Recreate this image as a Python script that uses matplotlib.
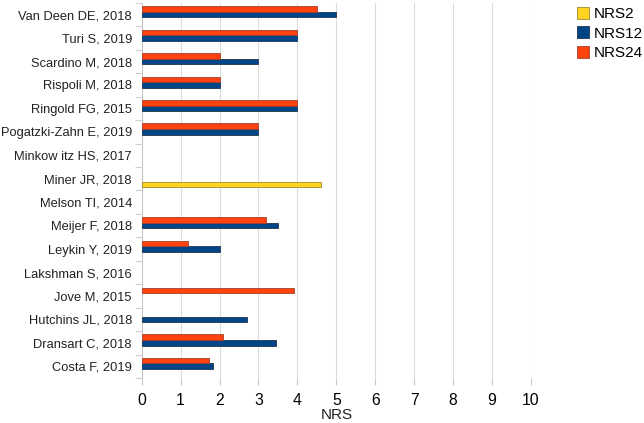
import numpy as np
import matplotlib
matplotlib.use("Agg")
import matplotlib.pyplot as plt
from matplotlib.patches import Patch

plt.rcParams['font.family'] = ['Liberation Sans', 'DejaVu Sans']

# categories, bottom to top
studies = ["Costa F, 2019", "Dransart C, 2018", "Hutchins JL, 2018", "Jove M, 2015",
           "Lakshman S, 2016", "Leykin Y, 2019", "Meijer F, 2018", "Melson TI, 2014",
           "Miner JR, 2018", "Minkow itz HS, 2017", "Pogatzki-Zahn E, 2019",
           "Ringold FG, 2015", "Rispoli M, 2018", "Scardino M, 2018", "Turi S, 2019",
           "Van Deen DE, 2018"]
nan = np.nan
nrs2 = [nan, nan, nan, nan, nan, nan, nan, nan, 4.6, nan, nan, nan, nan, nan, nan, nan]
nrs12 = [1.82, 3.45, 2.7, nan, nan, 2.0, 3.5, nan, nan, nan, 3.0, 4.0, 2.0, 3.0, 4.0, 5.0]
nrs24 = [1.73, 2.1, nan, 3.9, nan, 1.2, 3.2, nan, nan, nan, 3.0, 4.0, 2.0, 2.0, 4.0, 4.5]

series = [("NRS2", nrs2, "#ffd320", "#9a8a2a"),
          ("NRS12", nrs12, "#004586", "#1f3550"),
          ("NRS24", nrs24, "#ff420e", "#a04030")]

fig = plt.figure(figsize=(6.44, 4.23), dpi=100)
ax = fig.add_axes([0.220, 0.1064, 0.6045, 0.8866])

y = np.arange(len(studies))
h = 0.24
for i, (name, vals, col, ec) in enumerate(series):
    ax.barh(y + (i - 1) * h, vals, height=h, color=col, edgecolor=ec, linewidth=0.6,
            label=name, zorder=3)

ax.set_xlim(0, 10)
ax.set_ylim(-0.5, len(studies) - 0.5)
ax.set_xticks(range(11))
ax.set_yticks(y)
ax.set_yticklabels(studies, fontsize=9.3, color='#222222')
ax.set_yticks(np.arange(-0.5, len(studies), 1), minor=True)
ax.tick_params(axis='y', which='major', length=0, pad=7)
ax.tick_params(axis='y', which='minor', length=5, color='#d0d0d0', width=0.8)
ax.tick_params(axis='x', length=5, color='#c8c8c8', width=0.8, labelsize=11.3, pad=6)
ax.grid(axis='x', color='#dcdcdc', linewidth=0.8, zorder=0)
for s in ['top', 'right', 'bottom']:
    ax.spines[s].set_visible(False)
ax.spines['left'].set_color('#c8c8c8')
ax.spines['left'].set_linewidth(0.8)
ax.set_xlabel("NRS", fontsize=11, labelpad=0, color='#222222')

handles = [Patch(facecolor=c, edgecolor=e, linewidth=0.6, label=n) for n, _, c, e in series]
fig.legend(handles=handles, loc='upper left', bbox_to_anchor=(0.886, 0.998), frameon=False,
           fontsize=11, handlelength=0.8, handleheight=0.8, handletextpad=0.3,
           labelspacing=0.35, borderaxespad=0)

fig.savefig("out.png", dpi=100)
